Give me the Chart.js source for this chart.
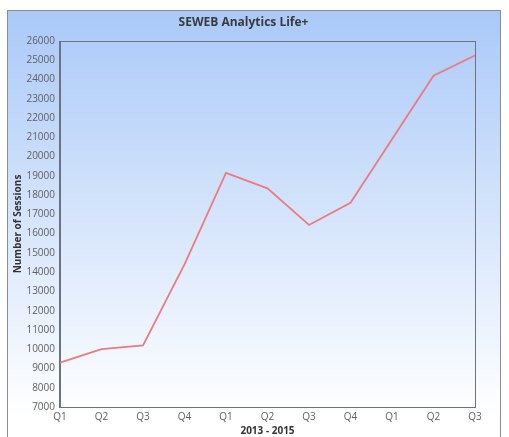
<!DOCTYPE html>
<html>
<head>
<meta charset="utf-8">
<script src="https://cdn.jsdelivr.net/npm/chart.js@4"></script>
<style>
  html, body { margin: 0; padding: 0; background: #fff; }
  #wrap { width: 509px; height: 437px; position: relative; }
</style>
</head>
<body>
<div id="wrap"><canvas id="sessionsChart"></canvas></div>
<script>
// data
const quarters = ['Q1', 'Q2', 'Q3', 'Q4', 'Q1', 'Q2', 'Q3', 'Q4', 'Q1', 'Q2', 'Q3'];
const sessions = [9300, 10000, 10200, 14400, 19150, 18350, 16450, 17600, 20900, 24200, 25250];
const yMin = 7000;
const yMax = 26000;
const yStep = 1000;

// gradient panel with a thin frame behind the whole chart
const panelBackground = {
    id: 'panelBackground',
    beforeDraw(chart) {
        const ctx = chart.ctx;
        ctx.save();
        const grad = ctx.createLinearGradient(0, 10, 0, 415);
        grad.addColorStop(0, '#aac9f8');
        grad.addColorStop(1, '#ffffff');
        ctx.fillStyle = grad;
        ctx.fillRect(7, 10, 494, 430);
        ctx.strokeStyle = '#8c8c8c';
        ctx.lineWidth = 1;
        ctx.strokeRect(7.5, 10.5, 493, 440);
        ctx.restore();
    },
    afterDatasetsDraw(chart) {
        const a = chart.chartArea;
        const ctx = chart.ctx;
        ctx.save();
        ctx.strokeStyle = '#6b7280';
        ctx.lineWidth = 1;
        ctx.strokeRect(Math.round(a.left) - 0.5, Math.round(a.top) + 0.5,
            Math.round(a.right - a.left) + 1, Math.round(a.bottom - a.top));
        ctx.restore();
    }
};

function createSessionsChart() {
    const ctx = document.getElementById('sessionsChart');
    if (!ctx) return;

    new Chart(ctx, {
        type: 'line',
        data: {
            labels: quarters,
            datasets: [{
                data: sessions,
                borderColor: '#ec7b7f',
                borderWidth: 1.8,
                pointRadius: 0,
                tension: 0,
                fill: false
            }]
        },
        options: {
            responsive: true,
            maintainAspectRatio: false,
            animation: false,
            layout: {
                padding: { left: 12, right: 34, top: 0, bottom: 0 }
            },
            plugins: {
                legend: { display: false },
                tooltip: { enabled: false },
                title: {
                    display: true,
                    text: 'SEWEB Analytics Life+',
                    color: '#3a3a3a',
                    font: { family: "'Open Sans', sans-serif", size: 12, weight: 'bold' },
                    padding: { top: 15, bottom: 11.6 }
                }
            },
            scales: {
                x: {
                    offset: false,
                    grid: { display: false, drawTicks: false },
                    border: { display: true, color: '#6b7280' },
                    ticks: {
                        color: '#606060',
                        autoSkip: false,
                        maxRotation: 0,
                        padding: 4,
                        font: { family: "'Open Sans', sans-serif", size: 10 }
                    },
                    title: {
                        display: true,
                        text: '2013 - 2015',
                        color: '#333333',
                        font: { family: "'Open Sans', sans-serif", size: 10, weight: 'bold' },
                        padding: { top: 0, bottom: 0 }
                    },
                    afterFit(scale) { scale.height = 30; }
                },
                y: {
                    min: yMin,
                    max: yMax,
                    grid: { display: false, drawTicks: false },
                    border: { display: true, color: '#6b7280' },
                    ticks: {
                        stepSize: yStep,
                        color: '#606060',
                        padding: 5,
                        font: { family: "'Open Sans', sans-serif", size: 10 },
                        callback: (v) => String(v)
                    },
                    title: {
                        display: true,
                        text: 'Number of Sessions',
                        color: '#333333',
                        font: { family: "'Open Sans', sans-serif", size: 10, weight: 'bold' },
                        padding: { top: 0, bottom: 0 }
                    },
                    afterFit(scale) { scale.width = 48; }
                }
            }
        },
        plugins: [panelBackground]
    });
}

document.addEventListener('DOMContentLoaded', () => {
    createSessionsChart();
});
</script>
</body>
</html>
